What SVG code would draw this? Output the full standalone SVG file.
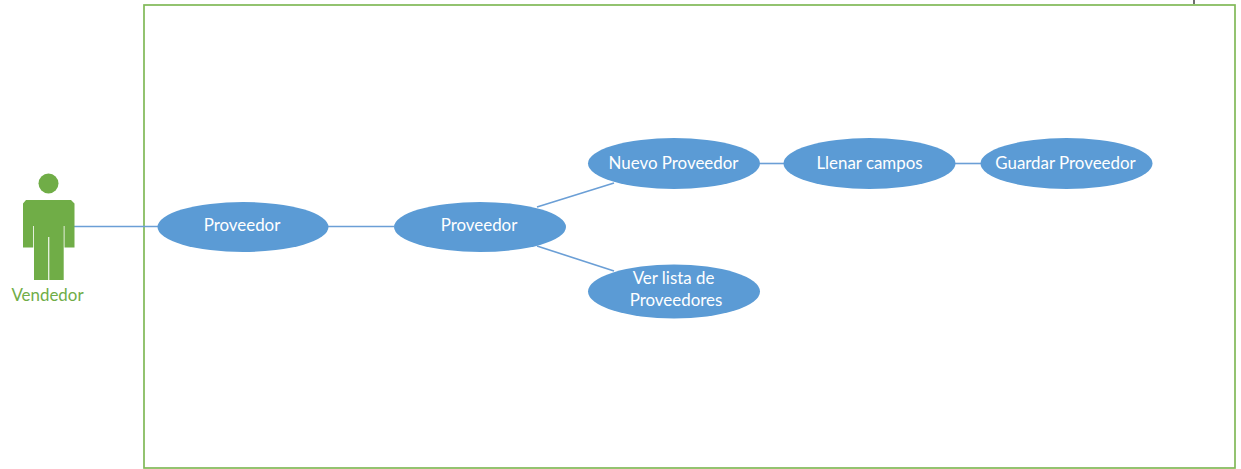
<svg xmlns="http://www.w3.org/2000/svg" width="1241" height="469" viewBox="0 0 1241 469">
<style>
.uc{fill:#5b9bd5}
.t{font-family:Lato,"Open Sans","Liberation Sans",sans-serif;font-size:16.900px;fill:#fff;text-anchor:middle}
.c{stroke:#6b9fd6;stroke-width:1.600;fill:none}
</style>
<rect width="1241" height="469" fill="#fff"/>
<rect id="boundary" x="144" y="5" width="1091" height="463" fill="none" stroke="#80b957" stroke-width="1.700"/>
<path id="tick" d="M1194 0V4" stroke="#222" stroke-width="1.300"/>
<g id="connectors">
<path class="c" d="M74 226.500H158"/>
<path class="c" d="M328 226.500H394"/>
<path class="c" d="M537 207L614 183" stroke-width="2"/>
<path class="c" d="M537 246L614 271"/>
<path class="c" d="M760 163.500H784"/>
<path class="c" d="M955 163.500H981"/>
</g>
<g id="actor">
<circle cx="48.500" cy="183.500" r="10" fill="#70ad47"/>
<path fill="#70ad47" d="M26 200H71L74.500 203.500V247.500H64.500V226H63.700V280H49.300V237H48.200V280H34V226H33.200V247.500H23V203.500Z"/>
<text x="47.500" y="301" style="font-family:Lato,'Open Sans','Liberation Sans',sans-serif;font-size:16.900px;fill:#70ad47;text-anchor:middle">Vendedor</text>
</g>
<g id="uc1"><ellipse class="uc" cx="243" cy="227" rx="85.500" ry="25"/><text class="t" x="242" y="230.500">Proveedor</text></g>
<g id="uc2"><ellipse class="uc" cx="480" cy="227" rx="86" ry="25"/><text class="t" x="479" y="230.500">Proveedor</text></g>
<g id="uc3"><ellipse class="uc" cx="674" cy="163.500" rx="86" ry="25.500"/><text class="t" x="673.500" y="169">Nuevo Proveedor</text></g>
<g id="uc4"><ellipse class="uc" cx="674" cy="291.500" rx="86" ry="27"/><text class="t" x="673.500" y="284">Ver lista de</text><text class="t" x="676" y="306">Proveedores</text></g>
<g id="uc5"><ellipse class="uc" cx="869.500" cy="163.500" rx="86" ry="25.500"/><text class="t" x="869.500" y="169">Llenar campos</text></g>
<g id="uc6"><ellipse class="uc" cx="1066.500" cy="163.500" rx="86" ry="25.500"/><text class="t" x="1065.500" y="169">Guardar Proveedor</text></g>
</svg>
